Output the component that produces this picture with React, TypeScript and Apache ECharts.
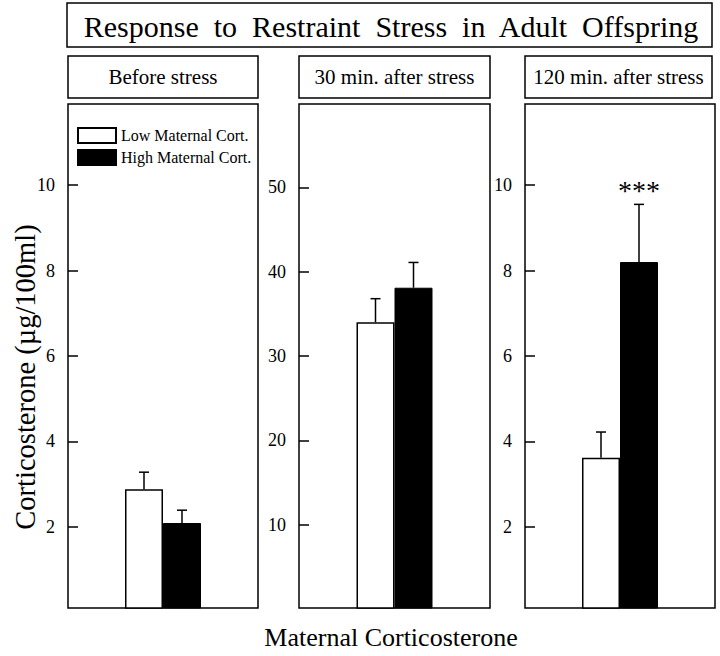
import React, { useEffect, useRef } from "react";
import * as echarts from "echarts";

const panelTitles = ["Before stress", "30 min. after stress", "120 min. after stress"];
const seriesNames = ["Low Maternal Cort.", "High Maternal Cort."];
const lowMeans = [2.88, 34.0, 3.62];
const lowErrors = [0.4, 2.8, 0.6];
const highMeans = [2.09, 38.1, 8.2];
const highErrors = [0.3, 3.0, 1.35];
const highSignificance = ["", "", "***"];
const yMins = [0.1, 0.1, 0.1];
const yMaxs = [11.9, 59.9, 11.9];
const yTicks = [
  [2, 4, 6, 8, 10],
  [10, 20, 30, 40, 50],
  [2, 4, 6, 8, 10],
];
const chartTitle = "Response  to  Restraint  Stress  in  Adult  Offspring";
const yAxisTitle = "Corticosterone (\u00b5g/100ml)";
const xAxisTitle = "Maternal Corticosterone";

const FONT = "'Liberation Serif', 'Times New Roman', serif";
const panelLefts = [68, 299, 525];
const panelWidths = [190, 191, 190];
const headerWidths = [190, 191, 187];
const BAR_W = 38;

export default function App() {
  const ref = useRef<HTMLDivElement>(null);
  useEffect(() => {
    if (!ref.current) return;
    const chart = echarts.init(ref.current, null, { renderer: "svg" });

    const grids = panelLefts.map((l, i) => ({
      left: l,
      top: 104,
      width: panelWidths[i],
      height: 504,
      show: true,
      borderColor: "#000",
      borderWidth: 1.5,
      backgroundColor: "#fff",
    }));
    const xAxes = panelLefts.map((_, i) => ({
      type: "category" as const,
      gridIndex: i,
      data: [panelTitles[i]],
      axisLine: { show: false },
      axisTick: { show: false },
      axisLabel: { show: false },
    }));
    const yAxes = panelLefts.map((_, i) => ({
      type: "value" as const,
      gridIndex: i,
      min: yMins[i],
      max: yMaxs[i],
      splitLine: { show: false },
      axisLine: { show: false },
      axisTick: {
        show: true,
        inside: true,
        length: 10,
        customValues: yTicks[i],
        lineStyle: { color: "#000", width: 1.5 },
      },
      axisLabel: {
        customValues: yTicks[i],
        margin: 13,
        color: "#000",
        fontSize: 18,
        fontFamily: FONT,
      },
    }));

    const series: any[] = [];
    panelLefts.forEach((_, i) => {
      series.push({
        type: "bar",
        name: seriesNames[0],
        xAxisIndex: i,
        yAxisIndex: i,
        barWidth: BAR_W,
        barGap: "0%",
        data: [lowMeans[i]],
        itemStyle: { color: "#fff", borderColor: "#000", borderWidth: 1.5 },
      });
      series.push({
        type: "bar",
        name: seriesNames[1],
        xAxisIndex: i,
        yAxisIndex: i,
        barWidth: BAR_W,
        barGap: "0%",
        data: [highMeans[i]],
        itemStyle: { color: "#000", borderColor: "#000", borderWidth: 1 },
      });
      series.push({
        type: "custom",
        xAxisIndex: i,
        yAxisIndex: i,
        z: 5,
        data: [
          [0, lowMeans[i], lowErrors[i], -1],
          [0, highMeans[i], highErrors[i], 1],
        ],
        renderItem: (params: any, api: any) => {
          const mean = api.value(1);
          const err = api.value(2);
          const side = api.value(3);
          const sig = highSignificance[i] && side > 0 ? highSignificance[i] : "";
          const base = api.coord([0, mean]);
          const top = api.coord([0, mean + err]);
          const cx = base[0] + (side * BAR_W) / 2;
          const children: any[] = [
            {
              type: "line",
              shape: { x1: cx, y1: base[1], x2: cx, y2: top[1] },
              style: { stroke: "#000", lineWidth: 1.5 },
            },
            {
              type: "line",
              shape: { x1: cx - 5, y1: top[1], x2: cx + 5, y2: top[1] },
              style: { stroke: "#000", lineWidth: 1.5 },
            },
          ];
          if (sig) {
            children.push({
              type: "text",
              x: cx,
              y: top[1] - 14,
              style: {
                text: sig,
                fill: "#000",
                font: `28px ${FONT}`,
                align: "center",
                verticalAlign: "middle",
              },
            });
          }
          return { type: "group", children };
        },
      });
    });

    const graphic: any[] = [
      {
        type: "rect",
        shape: { x: 67, y: 3, width: 645, height: 44 },
        style: { fill: "#fff", stroke: "#000", lineWidth: 1.5 },
      },
      {
        type: "text",
        x: 391,
        y: 26,
        style: {
          text: chartTitle,
          fill: "#000",
          font: `30px ${FONT}`,
          align: "center",
          verticalAlign: "middle",
        },
      },
      {
        type: "text",
        x: 25,
        y: 377,
        rotation: Math.PI / 2,
        style: {
          text: yAxisTitle,
          fill: "#000",
          font: `28.5px ${FONT}`,
          align: "center",
          verticalAlign: "middle",
        },
      },
      {
        type: "text",
        x: 391,
        y: 637,
        style: {
          text: xAxisTitle,
          fill: "#000",
          font: `26px ${FONT}`,
          align: "center",
          verticalAlign: "middle",
        },
      },
    ];
    panelLefts.forEach((l, i) => {
      graphic.push({
        type: "rect",
        shape: { x: l, y: 56, width: headerWidths[i], height: 42 },
        style: { fill: "#fff", stroke: "#000", lineWidth: 1.5 },
      });
      graphic.push({
        type: "text",
        x: l + headerWidths[i] / 2,
        y: 77,
        style: {
          text: panelTitles[i],
          fill: "#000",
          font: `21px ${FONT}`,
          align: "center",
          verticalAlign: "middle",
        },
      });
    });

    chart.setOption({
      animation: false,
      backgroundColor: "#fff",
      grid: grids,
      xAxis: xAxes,
      yAxis: yAxes,
      legend: {
        data: seriesNames,
        orient: "vertical",
        left: 77,
        top: 127,
        padding: 0,
        itemWidth: 38,
        itemHeight: 15,
        itemGap: 5,
        icon: "rect",
        selectedMode: false,
        textStyle: { color: "#000", fontSize: 16, fontFamily: FONT },
      },
      series,
      graphic,
    });
    return () => chart.dispose();
  }, []);
  return (
    <div
      ref={ref}
      style={{ position: "fixed", left: 0, top: 0, width: 720, height: 656, background: "#fff" }}
    />
  );
}
